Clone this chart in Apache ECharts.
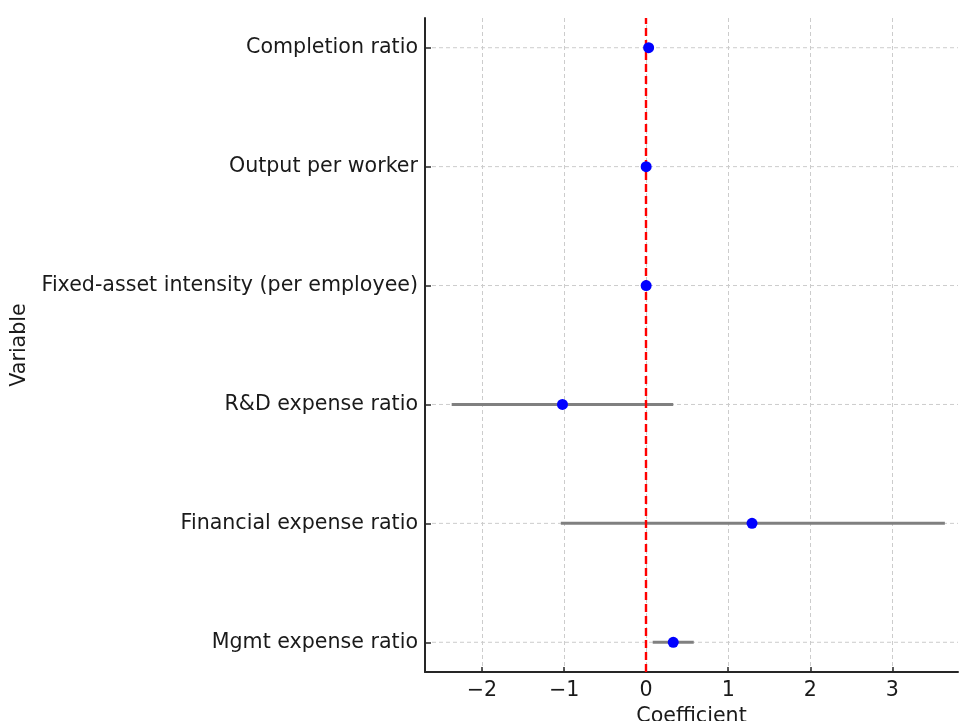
<!DOCTYPE html>
<html>
<head>
<meta charset="utf-8">
<script src="https://cdn.jsdelivr.net/npm/echarts@6/dist/echarts.min.js"></script>
<style>html,body{margin:0;padding:0;background:#fff}#c{width:959px;height:721px}</style>
</head>
<body>
<div id="c"></div>
<script>
// bottom to top
const categories = ["Mgmt expense ratio", "Financial expense ratio", "R&D expense ratio", "Fixed-asset intensity (per employee)", "Output per worker", "Completion ratio"];
const coef  = [0.33, 1.29, -1.02, 0.0, 0.0, 0.03];
const lower = [0.08, -1.04, -2.37, -0.01, -0.01, -0.03];
const upper = [0.58, 3.64, 0.33, 0.01, 0.01, 0.09];
const xTicks = [-2, -1, 0, 1, 2, 3];

const chart = echarts.init(document.getElementById('c'), null, {renderer: 'canvas'});
const font = 'DejaVu Sans';
const fs = 20.6;
const ciData = categories.map((c, i) => [lower[i], upper[i], i]);
const ptData = categories.map((c, i) => [coef[i], i]);

chart.setOption({
  animation: false,
  grid: {left: 425, right: 1, top: 18, bottom: 49, containLabel: false, outerBoundsMode: 'none'},
  xAxis: {
    type: 'value', min: -2.695, max: 3.8,
    name: 'Coefficient', nameLocation: 'middle', nameGap: 31,
    nameTextStyle: {fontFamily: font, fontSize: fs, color: '#1a1a1a'},
    axisLine: {show: true, onZero: false, lineStyle: {color: '#262626', width: 2}},
    axisTick: {show: true, inside: true, length: 5, lineStyle: {color: '#262626', width: 1.5}, customValues: xTicks},
    axisLabel: {fontFamily: font, fontSize: fs, color: '#1a1a1a', margin: 8, customValues: xTicks,
      formatter: v => (v < 0 ? '\u2212' + Math.abs(v) : String(v))},
    splitLine: {show: true, lineStyle: {color: '#cccccc', type: [4, 3], width: 1}}
  },
  yAxis: {
    type: 'value', min: -0.25, max: 5.25,
    name: 'Variable', nameLocation: 'middle', nameGap: 390, nameRotate: 90,
    nameTextStyle: {fontFamily: font, fontSize: fs, color: '#1a1a1a'},
    axisLine: {show: true, onZero: false, lineStyle: {color: '#262626', width: 2}},
    axisTick: {show: true, inside: true, length: 6, lineStyle: {color: '#262626', width: 1.5}, customValues: [0,1,2,3,4,5]},
    axisLabel: {fontFamily: font, fontSize: fs, color: '#1a1a1a', margin: 7, customValues: [0,1,2,3,4,5],
      verticalAlign: 'middle', padding: [2, 0, 0, 0],
      formatter: v => categories[Math.round(v)] || ''},
    splitLine: {show: false}
  },
  series: [
    {
      type: 'custom',
      data: ciData,
      renderItem: (params, api) => {
        const cs = params.coordSys;
        const a = api.coord([api.value(0), api.value(2)]);
        const b = api.coord([api.value(1), api.value(2)]);
        return {type: 'group', children: [
          {type: 'line', shape: {x1: cs.x + 7, y1: a[1], x2: cs.x + cs.width, y2: a[1]},
            style: {stroke: '#cccccc', lineWidth: 1, lineDash: [4, 3]}, z2: 1},
          {type: 'line', shape: {x1: a[0], y1: a[1], x2: b[0], y2: b[1]},
            style: {stroke: '#808080', lineWidth: 3}, z2: 10}
        ]};
      },
      z: 2
    },
    {
      type: 'line', data: [], z: 3,
      markLine: {
        silent: true, symbol: 'none', label: {show: false},
        lineStyle: {color: '#ff0000', type: [8, 4], width: 2.4},
        data: [{xAxis: 0}]
      }
    },
    {
      type: 'scatter', data: ptData, symbol: 'circle', symbolSize: 11,
      itemStyle: {color: '#0000ff', opacity: 1}, z: 5
    }
  ]
});
</script>
</body>
</html>
